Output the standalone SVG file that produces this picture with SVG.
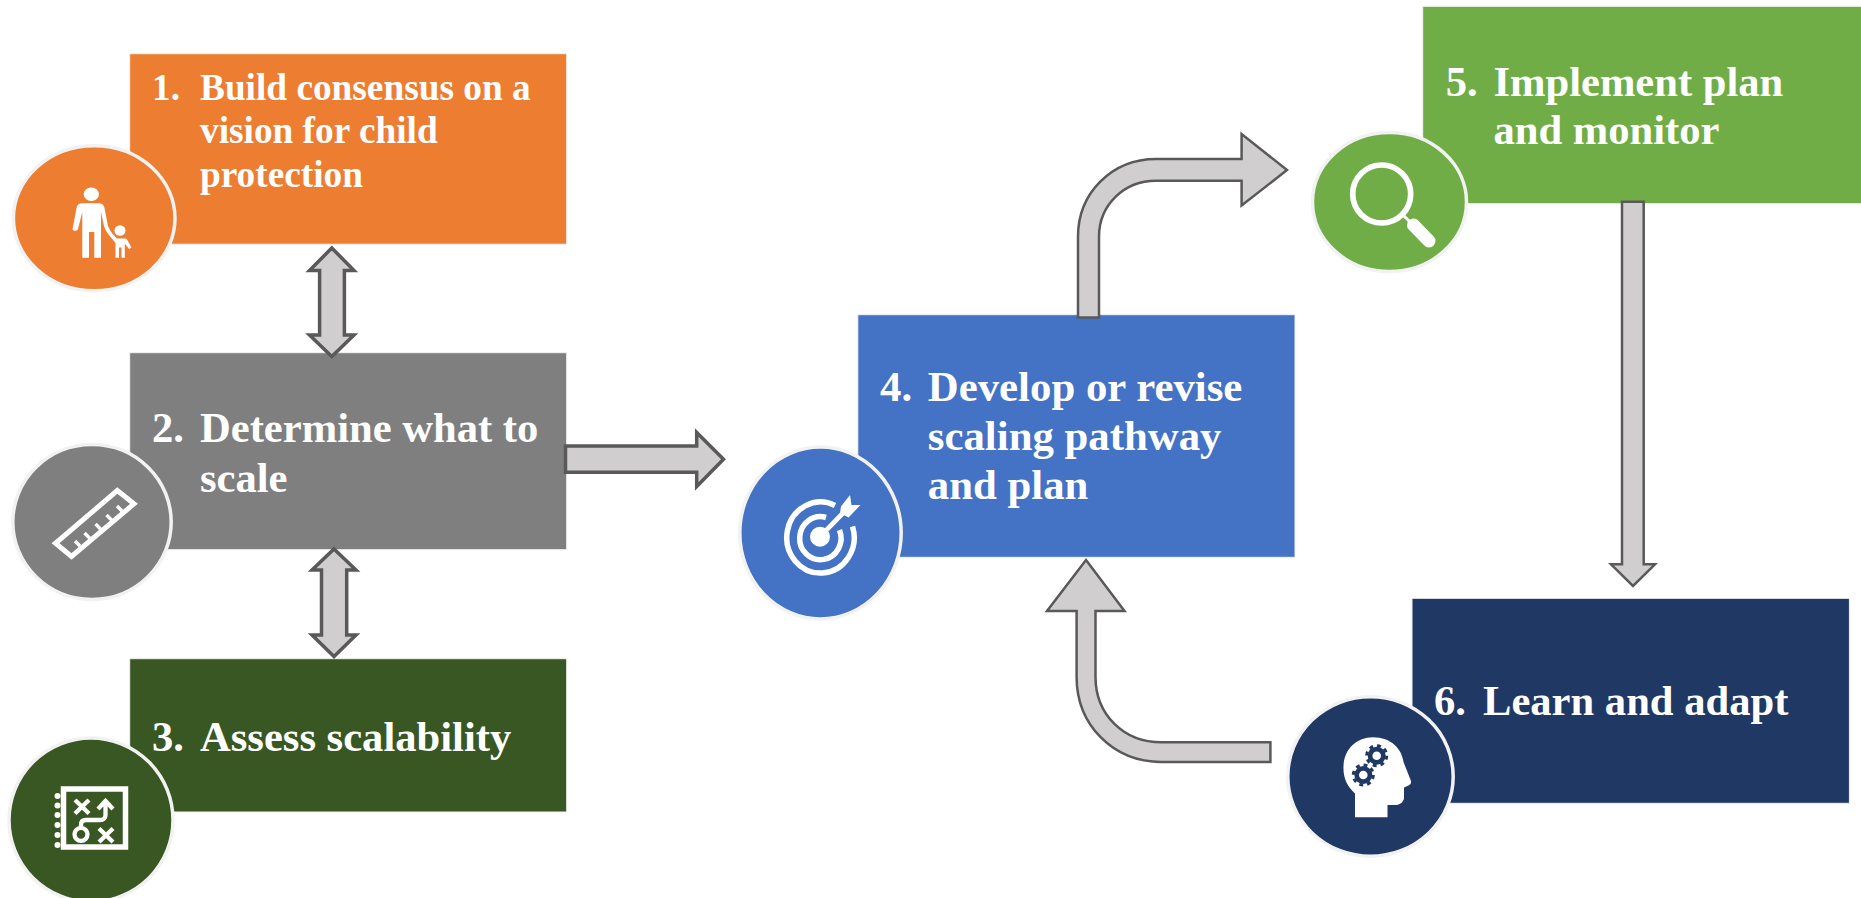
<svg xmlns="http://www.w3.org/2000/svg" width="1861" height="898" viewBox="0 0 1861 898">
<style>
.box{stroke:#f2f2f2;stroke-width:1}
.disc{stroke:#f2f2f2;stroke-width:3.5}
.arrow{fill:#d0cece;stroke:#595959;stroke-width:2.5;stroke-linejoin:miter}
.thick{stroke-width:3.5}
text{font-family:"Liberation Serif","Times New Roman",serif;font-weight:700;fill:#fff}
.ico{fill:#fff;stroke:none}
.line{fill:none;stroke:#fff}
</style>
<rect width="1861" height="898" fill="#fff"/>
<g id="node-1">
<rect class="box" x="129.700" y="53.700" width="437" height="190.500" fill="#ed7d31"/>
<ellipse class="disc" cx="94.200" cy="218.300" rx="80.800" ry="72.500" fill="#ed7d31"/>
<ellipse class="ico" cx="91.300" cy="194.300" rx="7.600" ry="6.800"/>
<path class="ico" d="M82 203.300H99C102 203.300 104 205 104.500 208L108 226C110 231 113 235 117 238.500H124.500C126 238.500 127 239 127.600 240.500L131.500 247.500L129 249L124.800 243.500V257.700H121.500V247.500H119V257.700H115.500V243L108.500 234.500C106.500 232 105 229 104 226L101 212V257.700H94.300V232H89V257.700H82.300V212L78 229C77.500 231 74 231.500 72.500 229.500L76.500 208C77 205 79 203.300 82 203.300Z"/>
<ellipse class="ico" cx="120" cy="230.500" rx="5.500" ry="5.300"/>
<text font-size="37.300"><tspan x="152" y="100">1.</tspan><tspan x="200" y="100">Build consensus on a</tspan><tspan x="200" y="143.300">vision for child</tspan><tspan x="200" y="186.700">protection</tspan></text>
</g>
<g id="node-2">
<rect class="box" x="129.700" y="352.700" width="437" height="197" fill="#7f7f7f"/>
<ellipse class="disc" cx="92" cy="522" rx="79.200" ry="77.500" fill="#7f7f7f"/>
<path class="line" stroke-width="5" d="M117.300 490.500L134 503.800L71.500 556.500L55.500 543.300Z"/>
<path class="line" stroke-width="3.400" d="M75 541L80 546M84.500 533L90.500 539M95.500 524L101.500 530M106.500 515L112.500 521M117 506L123 512"/>
<text font-size="42.600"><tspan x="152" y="441.700">2.</tspan><tspan x="200" y="441.700">Determine what to</tspan><tspan x="200" y="491.700">scale</tspan></text>
</g>
<g id="node-3">
<rect class="box" x="129.700" y="658.700" width="437" height="153.300" fill="#385723"/>
<ellipse class="disc" cx="91" cy="820" rx="82" ry="82" fill="#385723"/>
<rect class="line" x="63.500" y="789" width="62" height="58" stroke-width="5.500"/>
<g class="ico"><circle cx="57.500" cy="796" r="3"/><circle cx="57.500" cy="805.500" r="3"/><circle cx="57.500" cy="815" r="3"/><circle cx="57.500" cy="825" r="3"/><circle cx="57.500" cy="835" r="3"/><circle cx="57.500" cy="845" r="3"/></g>
<path class="line" stroke-width="4.300" d="M75 800L89 813.500M89 800L75 813.500M99 828.500L113 842M113 828.500L99 842M81 827.500V825C81 821.500 83 820 86 820H100C103.500 820 105.500 818 105.500 815V802M98 809L105.500 801L113 809"/>
<circle class="line" cx="81" cy="834.300" r="6.500" stroke-width="4.300"/>
<text font-size="42.600"><tspan x="152" y="750.700">3.</tspan><tspan x="200" y="750.700">Assess scalability</tspan></text>
</g>
<g id="node-4">
<rect class="box" x="857.800" y="314.700" width="437.200" height="242.600" fill="#4472c4"/>
<ellipse class="disc" cx="820.500" cy="533" rx="80.700" ry="86" fill="#4472c4"/>
<circle class="ico" cx="820" cy="536.700" r="10"/>
<path class="line" stroke-width="5.500" d="M835 505.500A33.700 35.500 0 1 0 852.500 526.500"/>
<path class="line" stroke-width="5.500" d="M826 517.500A20.700 21.500 0 1 0 839.500 530"/>
<path class="line" stroke-width="4.700" d="M820 536.700L846 510"/>
<path class="ico" d="M841 506.500L850 495L851.500 505H860.500L848.500 517.500L840 513Z"/>
<text font-size="42.800"><tspan x="880" y="401">4.</tspan><tspan x="927.800" y="401">Develop or revise</tspan><tspan x="927.800" y="450">scaling pathway</tspan><tspan x="927.800" y="499.300">and plan</tspan></text>
</g>
<g id="node-5">
<rect class="box" x="1422.700" y="6.300" width="445" height="197.400" fill="#70ad47"/>
<ellipse class="disc" cx="1389.500" cy="202" rx="77" ry="69.500" fill="#70ad47"/>
<circle class="line" cx="1381.700" cy="194" r="29" stroke-width="5.700"/>
<path class="line" stroke-width="3" d="M1403 215L1412 224"/>
<path class="line" stroke-width="13" stroke-linecap="round" d="M1413.500 225L1429 241"/>
<text font-size="42.600"><tspan x="1445.800" y="95.700">5.</tspan><tspan x="1493.400" y="95.700">Implement plan</tspan><tspan x="1493.400" y="144.300">and monitor</tspan></text>
</g>
<g id="node-6">
<rect class="box" x="1412" y="598.300" width="437.400" height="205" fill="#1f3864"/>
<ellipse class="disc" cx="1370.500" cy="776.500" rx="82.700" ry="79.800" fill="#1f3864"/>
<path class="ico" d="M1355 817.300V793.500C1347 786 1343 778 1343.500 766C1344 750 1356 737.300 1373 737.300C1391 737.300 1402 749 1403.500 762L1411 781C1411.500 784 1410 785 1404 787.500V798C1404 801 1400.500 805 1396 805H1387.500V817.300Z"/>
<g>
<circle cx="1376.700" cy="755.700" r="9" fill="#1f3864"/><circle cx="1376.700" cy="755.700" r="10" fill="none" stroke="#1f3864" stroke-width="3" stroke-dasharray="3.900 3.950"/><circle class="ico" cx="1376.700" cy="755.700" r="4.300"/>
<circle cx="1363.300" cy="775" r="9" fill="#1f3864"/><circle cx="1363.300" cy="775" r="10" fill="none" stroke="#1f3864" stroke-width="3" stroke-dasharray="3.900 3.950"/><circle class="ico" cx="1363.300" cy="775" r="4.300"/>
</g>
<text font-size="42.600"><tspan x="1434" y="715">6.</tspan><tspan x="1483" y="715">Learn and adapt</tspan></text>
</g>
<g id="connectors">
<path class="arrow thick" d="M331.800 248L354 270.500H344.400V335H354L331.800 356.500L309.500 335H319.600V270.500H309.500Z"/>
<path class="arrow thick" d="M334 549L356 570H346.700V635H356L334 656.500L312 635H321.500V570H312Z"/>
<path class="arrow thick" d="M565.500 446H696.700V432.500L723.500 459.300L696.700 486.500V472.300H565.500Z"/>
<path class="arrow" d="M1078 317.500V236.700C1078 193 1112 159 1156 159H1241.600V134L1287 170L1241.600 205.500V180.700H1156C1124 180.700 1099 205 1099 236.700V317.500Z"/>
<path class="arrow" d="M1622 201.700H1643.700V564.300H1655L1633 586L1611 564.300H1622Z"/>
<path class="arrow" d="M1086 560L1124.500 611H1095.500V676.700C1095.500 715 1124 742.300 1161.500 742.300H1270.400V762H1161.500C1113 762 1076.600 725 1076.600 676.700V611H1047Z"/>
</g>
</svg>
